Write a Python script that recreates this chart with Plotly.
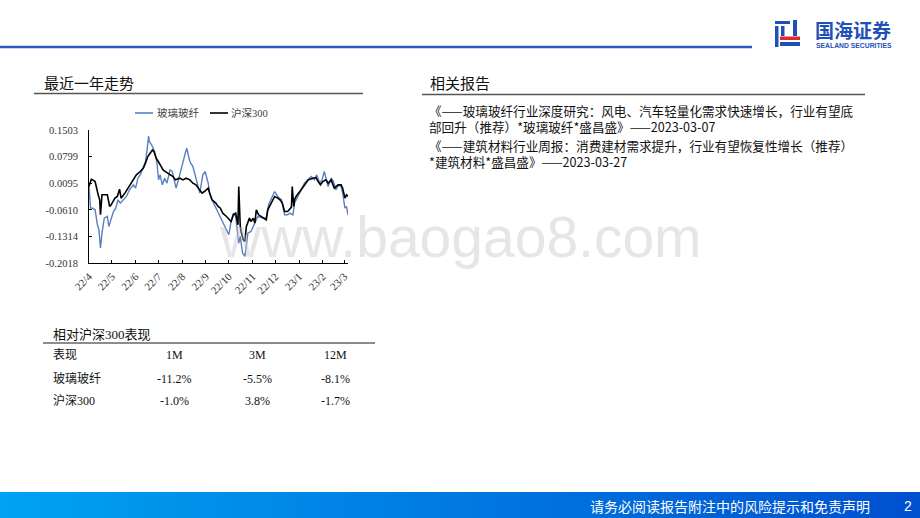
import plotly.graph_objects as go

# ---------------- data ----------------
glass_dates = ["2022-04-01","2022-04-03","2022-04-06","2022-04-09","2022-04-12","2022-04-14","2022-04-16","2022-04-18",
               "2022-04-21","2022-04-25","2022-04-27","2022-04-30","2022-05-03","2022-05-06","2022-05-09","2022-05-12",
               "2022-05-16","2022-05-20","2022-05-24","2022-05-29","2022-06-01","2022-06-04","2022-06-07","2022-06-11",
               "2022-06-14","2022-06-16","2022-06-18","2022-06-19","2022-06-22","2022-06-26","2022-06-29","2022-07-01",
               "2022-07-03","2022-07-06","2022-07-09","2022-07-12","2022-07-16","2022-07-19","2022-07-22","2022-07-24",
               "2022-07-27","2022-07-31","2022-08-03","2022-08-05","2022-08-07","2022-08-11","2022-08-15","2022-08-18",
               "2022-08-22","2022-08-24","2022-08-28","2022-08-31","2022-09-04","2022-09-06","2022-09-09","2022-09-15",
               "2022-09-19","2022-09-23","2022-09-28","2022-10-01","2022-10-04","2022-10-07","2022-10-10","2022-10-12",
               "2022-10-14","2022-10-16","2022-10-19","2022-10-22","2022-10-24","2022-10-26","2022-10-30","2022-11-02",
               "2022-11-04","2022-11-08","2022-11-15","2022-11-19","2022-11-22","2022-11-27","2022-11-30","2022-12-04",
               "2022-12-09","2022-12-13","2022-12-17","2022-12-20","2022-12-24","2022-12-26","2022-12-30","2023-01-04",
               "2023-01-08","2023-01-13","2023-01-17","2023-01-21","2023-01-24","2023-01-28","2023-01-31","2023-02-03",
               "2023-02-08","2023-02-12","2023-02-15","2023-02-18","2023-02-22","2023-02-25","2023-02-27","2023-03-02",
               "2023-03-04","2023-03-06"]
glass_values = [0.0007,-0.0566,-0.0566,-0.0610,-0.1006,-0.1138,-0.1622,-0.1226,
                -0.0830,-0.0786,-0.1050,-0.0874,-0.0654,-0.0566,-0.0345,-0.0433,
                -0.0345,-0.0257,-0.0081,0.0051,-0.0037,0.0227,0.0315,0.0535,
                0.0667,0.0975,0.1345,0.1195,0.1107,0.0931,0.0623,0.0183,
                0.0315,0.0051,0.0227,0.0095,0.0447,0.0403,0.0139,-0.0037,
                0.0183,0.0535,0.0711,0.0887,0.1019,0.0667,0.0535,0.0271,
                -0.0037,-0.0169,0.0315,0.0403,0.0095,-0.0169,-0.0345,-0.0610,
                -0.0742,-0.0962,-0.1138,-0.1270,-0.0918,-0.0698,-0.0786,-0.1182,
                -0.1490,-0.1314,-0.1754,-0.1842,-0.1490,-0.1226,-0.1182,-0.1050,
                -0.0918,-0.0786,-0.0830,-0.0830,-0.0478,-0.0257,-0.0125,-0.0257,
                -0.0345,-0.0742,-0.0742,-0.0698,-0.0742,-0.0433,-0.0257,-0.0081,
                0.0095,0.0200,0.0271,0.0183,0.0315,0.0095,0.0183,0.0403,
                0.0007,0.0227,0.0139,-0.0081,0.0051,0.0007,-0.0169,-0.0566,
                -0.0522,-0.0742]

hs300_dates = ["2022-04-01","2022-04-04","2022-04-06","2022-04-09","2022-04-13","2022-04-15","2022-04-16","2022-04-18",
               "2022-04-21","2022-04-25","2022-04-28","2022-04-30","2022-05-05","2022-05-08","2022-05-11","2022-05-13",
               "2022-05-18","2022-05-22","2022-05-26","2022-05-31","2022-06-02","2022-06-07","2022-06-11","2022-06-13",
               "2022-06-15","2022-06-17","2022-06-20","2022-06-23","2022-06-25","2022-06-28","2022-07-02","2022-07-07",
               "2022-07-10","2022-07-16","2022-07-20","2022-07-23","2022-07-29","2022-08-02","2022-08-06","2022-08-11",
               "2022-08-15","2022-08-19","2022-08-24","2022-08-27","2022-08-30","2022-09-04","2022-09-06","2022-09-09",
               "2022-09-14","2022-09-17","2022-09-20","2022-09-23","2022-09-28","2022-10-02","2022-10-04","2022-10-07",
               "2022-10-10","2022-10-13","2022-10-14","2022-10-16","2022-10-17","2022-10-20","2022-10-22","2022-10-24",
               "2022-10-28","2022-10-30","2022-11-02","2022-11-04","2022-11-06","2022-11-09","2022-11-15","2022-11-19",
               "2022-11-21","2022-11-26","2022-11-30","2022-12-04","2022-12-07","2022-12-10","2022-12-13","2022-12-17",
               "2022-12-20","2022-12-22","2022-12-23","2022-12-25","2022-12-26","2022-12-28","2023-01-02","2023-01-05",
               "2023-01-08","2023-01-13","2023-01-19","2023-01-23","2023-01-26","2023-01-29","2023-02-01","2023-02-05",
               "2023-02-08","2023-02-12","2023-02-16","2023-02-21","2023-02-25","2023-02-27","2023-03-02","2023-03-04",
               "2023-03-06"]
hs300_values = [0.0007,0.0200,0.0183,0.0139,-0.0213,-0.0345,-0.0742,-0.0213,
                -0.0213,-0.0213,-0.0522,-0.0478,-0.0301,-0.0257,-0.0064,-0.0301,
                -0.0169,-0.0037,0.0095,0.0271,0.0315,0.0403,0.0491,0.0579,
                0.0711,0.0799,0.0887,0.0975,0.0931,0.0755,0.0623,0.0447,
                0.0403,0.0315,0.0271,0.0183,0.0227,0.0183,0.0227,0.0183,
                0.0095,0.0051,-0.0081,-0.0169,-0.0125,-0.0037,-0.0169,-0.0345,
                -0.0433,-0.0522,-0.0566,-0.0698,-0.0786,-0.0874,-0.0918,-0.0742,
                -0.0698,-0.1006,0.0007,-0.1050,-0.1182,-0.1402,-0.1446,-0.1050,
                -0.0830,-0.0918,-0.0830,-0.0962,-0.0610,-0.0742,-0.0830,-0.0874,
                -0.0610,-0.0389,-0.0257,-0.0301,-0.0345,-0.0433,-0.0654,-0.0654,
                -0.0566,-0.0539,0.0007,-0.0522,-0.0345,-0.0257,-0.0125,-0.0037,
                0.0051,0.0183,0.0227,0.0244,0.0139,0.0051,0.0139,0.0183,
                0.0095,0.0183,-0.0037,0.0051,0.0051,-0.0037,-0.0301,-0.0213,
                -0.0257]

series_names = ["玻璃玻纤", "沪深300"]
y_ticks = [0.1503, 0.0799, 0.0095, -0.0610, -0.1314, -0.2018]
x_tick_dates = ["2022-04-01","2022-05-01","2022-06-01","2022-07-01","2022-08-01","2022-09-01",
                "2022-10-01","2022-11-01","2022-12-01","2023-01-01","2023-02-01","2023-03-01"]
x_tick_labels = ["22/4","22/5","22/6","22/7","22/8","22/9","22/10","22/11","22/12","23/1","23/2","23/3"]

table_periods = ["1M", "3M", "12M"]
table_glass = ["-11.2%", "-5.5%", "-8.1%"]
table_hs300 = ["-1.0%", "3.8%", "-1.7%"]

reports = [
    ["《——玻璃玻纤行业深度研究：风电、汽车轻量化需求快速增长，行业有望底",
     "部回升（推荐）*玻璃玻纤*盛昌盛》——2023-03-07"],
    ["《——建筑材料行业周报：消费建材需求提升，行业有望恢复性增长（推荐）",
     "*建筑材料*盛昌盛》——2023-03-27"],
]

# ---------------- layout helpers ----------------
W, H = 920, 518
def px(x):
    return x / W
def py(y):
    return 1 - y / H

CJK = "Noto Sans CJK SC"
MIX = "Liberation Serif, Noto Sans CJK SC"
BLUE = "#5a7fc0"

fig = go.Figure()
fig.add_trace(go.Scatter(x=glass_dates, y=glass_values, mode="lines", name=series_names[0],
                         line=dict(color=BLUE, width=1.4), showlegend=False))
fig.add_trace(go.Scatter(x=hs300_dates, y=hs300_values, mode="lines", name=series_names[1],
                         line=dict(color="#000000", width=1.6), showlegend=False))

shapes = []
annotations = []

def note(text, x, y, size, color="#111111", family=CJK, xanchor="left", yanchor="middle", align="left"):
    annotations.append(dict(text=text, x=px(x), y=py(y), xref="paper", yref="paper",
                            xanchor=xanchor, yanchor=yanchor, showarrow=False, align=align,
                            font=dict(family=family, size=size, color=color)))

def rect(x0, y0, x1, y1, color, layer="above"):
    shapes.append(dict(type="rect", xref="paper", yref="paper", x0=px(x0), x1=px(x1), y0=py(y1), y1=py(y0),
                       fillcolor=color, line=dict(width=0), layer=layer))

def hline(x0, x1, y, color, width):
    shapes.append(dict(type="line", xref="paper", yref="paper", x0=px(x0), x1=px(x1), y0=py(y), y1=py(y),
                       line=dict(color=color, width=width)))

# header line
hline(0, 752, 47, "#2a5cc0", 2.5)
# logo icon
logo_blue = "#1e50b8"
for (x0, y0, x1, y1, c) in [(775, 21, 790, 24, logo_blue), (775, 26, 778.5, 47, logo_blue),
                            (781, 26, 784.5, 36, logo_blue), (793, 20, 797, 36, logo_blue),
                            (780, 36.5, 800, 40, "#e0282e"), (780, 42, 800, 46, logo_blue)]:
    rect(x0, y0, x1, y1, c)
note("<b>国海证券</b>", 813, 30, 19, logo_blue)
note("<b>SEALAND SECURITIES</b>", 814, 45.5, 6.8, logo_blue, "Liberation Sans")

# section titles and underlines
note("最近一年走势", 42, 82, 15)
note("相关报告", 428, 82, 15)
hline(34, 363, 93.5, "#555555", 1.3)
hline(422, 865, 94.5, "#555555", 1.3)

# reports (each as one wrapped text block)
report_top = [98.5, 133.5]
for rep, yt in zip(reports, report_top):
    note("<br>".join(rep), 427, yt, 12.6, yanchor="top")

# manual legend
leg = [(135, 153, 155, BLUE, series_names[0]), (210, 228, 229, "#000000", series_names[1])]
for (lx0, lx1, tx, col, name) in leg:
    hline(lx0, lx1, 113, col, 1.6)
    note(name, tx, 113, 10.5, "#404040", MIX)

# table
note("相对沪深300表现", 51, 334, 13, family=MIX)
hline(43, 375, 343, "#666666", 1.3)
col_x = [174, 257, 335]
rows = [("表现", table_periods, 355), (series_names[0], table_glass, 379), (series_names[1], table_hs300, 401)]
for label, vals, yy in rows:
    note(label, 51, yy, 12, family=MIX)
    for cx, v in zip(col_x, vals):
        note(v, cx, yy, 12, family="Liberation Serif", xanchor="center")

# footer gradient bar
n_strips = 92
c0 = (0, 162, 242)
c1 = (0, 80, 208)
for i in range(n_strips):
    t = i / (n_strips - 1)
    col = "rgb(%d,%d,%d)" % tuple(round(a + (b - a) * t) for a, b in zip(c0, c1))
    rect(i * 10, 492, (i + 1) * 10 + 1, 518, col, "below")
note("请务必阅读报告附注中的风险提示和免责声明", 588, 506, 14, "#ffffff")
note("2", 908, 506, 14, "#ffffff", "Liberation Sans", "center")

# watermark
note("www.baogao8.com", 460, 237, 57, "rgba(200,200,200,0.45)", "Liberation Sans", "center")

fig.update_layout(
    width=W, height=H, autosize=False,
    margin=dict(l=0, r=0, t=0, b=0, pad=0, autoexpand=False),
    paper_bgcolor="white", plot_bgcolor="rgba(0,0,0,0)",
    shapes=shapes, annotations=annotations, showlegend=False,
    xaxis=dict(domain=[px(89), px(348)], type="date", range=["2022-04-01", "2023-03-06"],
               tickvals=x_tick_dates, ticktext=x_tick_labels, tickangle=-45, automargin=False,
               ticks="inside", ticklen=3, tickcolor="#000000", showline=True, linecolor="#000000", linewidth=1,
               showgrid=False, zeroline=False, ticklabelstandoff=2,
               tickfont=dict(family="Liberation Serif", size=10.8, color="#333333")),
    yaxis=dict(domain=[py(263), py(130)], range=[-0.2018, 0.1503], automargin=False,
               tickvals=y_ticks, ticktext=["%.4f" % v for v in y_ticks],
               ticks="inside", ticklen=3, tickcolor="#000000", showline=True, linecolor="#000000", linewidth=1,
               showgrid=False, zeroline=False, ticklabelstandoff=8,
               tickfont=dict(family="Liberation Serif", size=10.5, color="#333333")),
)

fig.write_html("out.html", config={"displayModeBar": False},
               post_script="document.body.style.margin='0';document.body.style.overflow='hidden';")
